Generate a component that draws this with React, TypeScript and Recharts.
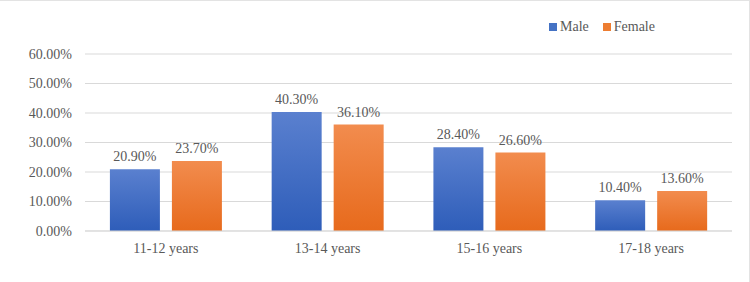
import React from 'react';
import { BarChart, Bar, XAxis, YAxis, CartesianGrid, LabelList } from 'recharts';

const categories = ['11-12 years', '13-14 years', '15-16 years', '17-18 years'];
const maleValues = [20.9, 40.3, 28.4, 10.4];
const femaleValues = [23.7, 36.1, 26.6, 13.6];
const yTicks = [0, 10, 20, 30, 40, 50, 60];

const data = categories.map((c, i) => ({ name: c, male: maleValues[i], female: femaleValues[i] }));

const FONT = "'Liberation Serif', 'Times New Roman', serif";
const TEXT = '#595959';

const fmt = (v: number) => `${Number(v).toFixed(2)}%`;

export default function App() {
  return (
    <div style={{ position: 'absolute', left: 0, top: 0, width: 750, height: 282, background: '#fff' }}>
      <BarChart
        width={750}
        height={282}
        data={data}
        margin={{ top: 54, right: 18, bottom: 21, left: 0 }}
        barCategoryGap="15.4%"
        barGap={12}
        style={{ fontFamily: FONT }}
      >
        <defs>
          <linearGradient id="gMale" x1="0" y1="0" x2="0" y2="1">
            <stop offset="0%" stopColor="#5a80cf" />
            <stop offset="100%" stopColor="#2e5db9" />
          </linearGradient>
          <linearGradient id="gFemale" x1="0" y1="0" x2="0" y2="1">
            <stop offset="0%" stopColor="#f28c4e" />
            <stop offset="100%" stopColor="#e76a1c" />
          </linearGradient>
        </defs>
        <CartesianGrid vertical={false} stroke="#d9d9d9" />
        <XAxis
          dataKey="name"
          axisLine={{ stroke: '#d9d9d9' }}
          tickLine={false}
          tickSize={0}
          tickMargin={12}
          tick={{ fill: TEXT, fontSize: 14, fontFamily: FONT }}
        />
        <YAxis
          domain={[0, 60]}
          ticks={yTicks}
          width={85}
          axisLine={false}
          tickLine={false}
          tickSize={0}
          tickMargin={13}
          tickFormatter={fmt}
          tick={{ fill: TEXT, fontSize: 14, fontFamily: FONT }}
        />
        <Bar dataKey="male" name="Male" fill="url(#gMale)" isAnimationActive={false}>
          <LabelList dataKey="male" position="top" offset={8} formatter={fmt} fill={TEXT} fontSize={14} fontFamily={FONT} />
        </Bar>
        <Bar dataKey="female" name="Female" fill="url(#gFemale)" isAnimationActive={false}>
          <LabelList dataKey="female" position="top" offset={8} formatter={fmt} fill={TEXT} fontSize={14} fontFamily={FONT} />
        </Bar>
      </BarChart>
      <div style={{ position: 'absolute', left: 549, top: 19, display: 'flex', alignItems: 'center', fontFamily: FONT, fontSize: 14, color: TEXT, lineHeight: '16px' }}>
        <span style={{ display: 'inline-block', width: 8, height: 8, background: '#4472C4', marginRight: 3 }} />
        <span style={{ marginRight: 14 }}>Male</span>
        <span style={{ display: 'inline-block', width: 8, height: 8, background: '#ED7D31', marginRight: 3 }} />
        <span>Female</span>
      </div>
      <div style={{ position: 'absolute', left: 0, top: 0, width: 750, height: 282, boxSizing: 'border-box', borderTop: '1px solid #e3e3e3', borderRight: '1px solid #e3e3e3', pointerEvents: 'none' }} />
    </div>
  );
}
